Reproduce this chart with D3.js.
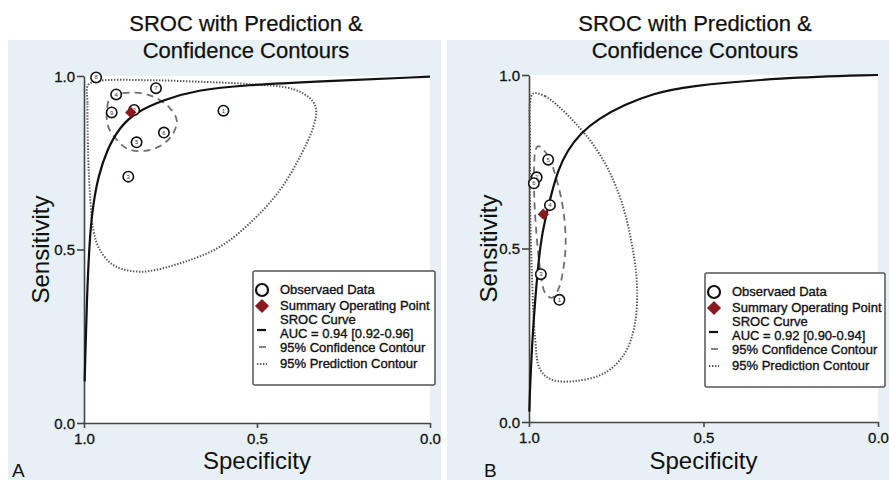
<!DOCTYPE html>
<html><head><meta charset="utf-8">
<script src="https://cdn.jsdelivr.net/npm/d3@7"></script>
<style>
html,body{margin:0;padding:0;background:#fff;}
svg{display:block;font-family:"Liberation Sans",Arial,sans-serif;}
</style></head>
<body><svg id="c" width="889" height="480"></svg>
<script>
// ---------- DATA ----------
const tickValues = [0, 0.5, 1.0];
const titleLines = ["SROC with Prediction &", "Confidence Contours"];
const legendLabels = ["Observaed Data", "Summary Operating Point", "SROC Curve", "95% Confidence Contour", "95% Prediction Contour"];
const aucA = "AUC = 0.94 [0.92-0.96]";
const aucB = "AUC = 0.92 [0.90-0.94]";

// Panel A studies: [specificity, sensitivity, label]
const studiesA = [
  [0.965, 0.996, "8"], [0.907, 0.947, "4"], [0.792, 0.965, "7"],
  [0.920, 0.895, "9"], [0.855, 0.902, "2"], [0.769, 0.837, "6"],
  [0.848, 0.809, "5"], [0.597, 0.900, "1"], [0.872, 0.710, "3"]
];
const summaryA = [0.865, 0.895];
const srocA = [
  [0.998, 0.12], [0.997, 0.162], [0.992, 0.354], [0.983, 0.547], [0.973, 0.633],
  [0.959, 0.710], [0.934, 0.787], [0.896, 0.854], [0.848, 0.897], [0.771, 0.931],
  [0.674, 0.960], [0.530, 0.974], [0.337, 0.984], [0.0, 0.998]
];
const confA = [
  [0.901, 0.948], [0.853, 0.952], [0.804, 0.942], [0.756, 0.912], [0.732, 0.873],
  [0.742, 0.835], [0.775, 0.801], [0.824, 0.784], [0.872, 0.789], [0.905, 0.816],
  [0.930, 0.854], [0.934, 0.902], [0.925, 0.936]
];
const predA = [
  [0.988, 0.974], [0.990, 0.921], [0.988, 0.777], [0.983, 0.662], [0.973, 0.556],
  [0.954, 0.499], [0.915, 0.455], [0.838, 0.436], [0.723, 0.460], [0.607, 0.508],
  [0.511, 0.585], [0.434, 0.671], [0.376, 0.767], [0.337, 0.854], [0.329, 0.902],
  [0.342, 0.931], [0.395, 0.962], [0.530, 0.977], [0.680, 0.984], [0.819, 0.988],
  [0.954, 0.986]
];

// Panel B
const studiesB = [
  [0.945, 0.756, "5"], [0.978, 0.705, "2"], [0.986, 0.688, "6"],
  [0.940, 0.625, "4"], [0.966, 0.426, "3"], [0.913, 0.352, "1"]
];
const summaryB = [0.959, 0.599];
const srocB = [
  [0.999, 0.03], [0.997, 0.103], [0.991, 0.228], [0.983, 0.344], [0.973, 0.459],
  [0.964, 0.535], [0.949, 0.603], [0.935, 0.661], [0.916, 0.728], [0.890, 0.782],
  [0.855, 0.830], [0.800, 0.875], [0.725, 0.915], [0.648, 0.945], [0.553, 0.968],
  [0.28, 0.992], [0.0, 1.0]
];
const confB = [
  [0.973, 0.795], [0.945, 0.766], [0.921, 0.699], [0.902, 0.612], [0.895, 0.516],
  [0.902, 0.439], [0.916, 0.382], [0.935, 0.358], [0.954, 0.372], [0.968, 0.439],
  [0.978, 0.535], [0.985, 0.651], [0.985, 0.747], [0.981, 0.785]
];
const predB = [
  [0.988, 0.947], [0.954, 0.939], [0.916, 0.910], [0.868, 0.862], [0.820, 0.805],
  [0.773, 0.728], [0.734, 0.632], [0.706, 0.516], [0.691, 0.401], [0.696, 0.286],
  [0.725, 0.199], [0.782, 0.142], [0.868, 0.118], [0.935, 0.122], [0.968, 0.151],
  [0.983, 0.247], [0.992, 0.439], [0.997, 0.632], [0.997, 0.824], [0.997, 0.920]
];

// ---------- DRAW ----------
const svg = d3.select("#c");
const BG = "#e7f0f4";

const panels = [
  {letter: "A", bg: [8, 441], x: [84, 430], y: [423, 76], titleX: 246, ylabX: 49, legend: [253, 271, 435, 385],
   studies: studiesA, summary: summaryA, sroc: srocA, conf: confA, pred: predA, auc: aucA, letterX: 12},
  {letter: "B", bg: [447, 889], x: [529, 878], y: [422, 75], titleX: 695, ylabX: 497, legend: [705, 273, 885, 387],
   studies: studiesB, summary: summaryB, sroc: srocB, conf: confB, pred: predB, auc: aucB, letterX: 484}
];

panels.forEach(p => {
  const g = svg.append("g");
  g.append("rect").attr("x", p.bg[0]).attr("y", 40).attr("width", p.bg[1] - p.bg[0]).attr("height", 440).attr("fill", BG);

  const x = d3.scaleLinear().domain([1, 0]).range(p.x);
  const y = d3.scaleLinear().domain([0, 1]).range(p.y);

  // plot area
  g.append("rect").attr("x", x(1)).attr("y", y(1)).attr("width", x(0) - x(1)).attr("height", y(0) - y(1)).attr("fill", "#fff");

  // title
  titleLines.forEach((t, i) => {
    g.append("text").attr("x", p.titleX).attr("y", 31 + i * 27).attr("text-anchor", "middle")
      .attr("font-size", 22).attr("fill", "#111").attr("stroke", "#111").attr("stroke-width", 0.25).text(t);
  });

  // axes
  const fmt = d3.format(".1f");
  const ax = g.append("g").attr("transform", `translate(0,${y(0)})`)
    .call(d3.axisBottom(x).tickValues(tickValues).tickFormat(fmt).tickSize(5).tickSizeOuter(0).tickPadding(5));
  const ay = g.append("g").attr("transform", `translate(${x(1)},0)`)
    .call(d3.axisLeft(y).tickValues(tickValues).tickFormat(fmt).tickSize(7).tickSizeOuter(0).tickPadding(2));
  [ax, ay].forEach(a => {
    a.selectAll("path,line").attr("stroke", "#444").attr("stroke-width", 1.6);
    a.selectAll("text").attr("font-size", 15).attr("fill", "#111").attr("stroke", "#111").attr("stroke-width", 0.3)
      .attr("font-family", "Liberation Sans, Arial, sans-serif");
  });
  ay.selectAll("text").attr("dy", "0.35em");

  // axis titles
  g.append("text").attr("x", (p.x[0] + p.x[1]) / 2).attr("y", 469).attr("text-anchor", "middle")
    .attr("font-size", 24).attr("fill", "#111").text("Specificity");
  g.append("text").attr("transform", `translate(${p.ylabX},${(p.y[0] + p.y[1]) / 2}) rotate(-90)`)
    .attr("text-anchor", "middle").attr("font-size", 24).attr("fill", "#111").text("Sensitivity");
  g.append("text").attr("x", p.letterX).attr("y", 477).attr("font-size", 19).attr("fill", "#111").text(p.letter);

  const line = d3.line().x(d => x(d[0])).y(d => y(d[1]));

  // prediction contour (dotted)
  g.append("path").attr("d", line.curve(d3.curveCatmullRomClosed.alpha(0.5))(p.pred))
    .attr("fill", "none").attr("stroke", "#555").attr("stroke-width", 2).attr("stroke-dasharray", "1.4,1.6");
  // confidence contour (dashed)
  g.append("path").attr("d", line.curve(d3.curveCatmullRomClosed.alpha(0.5))(p.conf))
    .attr("fill", "none").attr("stroke", "#707070").attr("stroke-width", 1.8).attr("stroke-dasharray", "7,5");
  // SROC curve
  g.append("path").attr("d", line.curve(d3.curveBasis)(p.sroc))
    .attr("fill", "none").attr("stroke", "#111").attr("stroke-width", 2.2);

  // studies
  const st = g.selectAll(".st").data(p.studies).join("g").attr("transform", d => `translate(${x(d[0])},${y(d[1])})`);
  st.append("circle").attr("r", 5.2).attr("fill", "#fff").attr("stroke", "#111").attr("stroke-width", 1.6);
  st.append("text").attr("text-anchor", "middle").attr("dy", "0.35em").attr("font-size", 6).attr("fill", "#333").text(d => d[2]);

  // summary point
  g.append("rect").attr("x", -4).attr("y", -4).attr("width", 8).attr("height", 8)
    .attr("transform", `translate(${x(p.summary[0])},${y(p.summary[1])}) rotate(45)`)
    .attr("fill", "#8b1a1f");

  // legend
  const [lx0, ly0, lx1, ly1] = p.legend;
  const lg = g.append("g");
  lg.append("rect").attr("x", lx0).attr("y", ly0).attr("width", lx1 - lx0).attr("height", ly1 - ly0)
    .attr("rx", 2).attr("fill", "#fff").attr("stroke", "#555").attr("stroke-width", 1.5);
  const sx = lx0 + 9, tx = lx0 + 27;
  const rows = [ly0 + 23, ly0 + 39, ly0 + 53, ly0 + 67, ly0 + 81, ly0 + 97];
  lg.append("circle").attr("cx", sx).attr("cy", rows[0] - 4).attr("r", 6).attr("fill", "#fff").attr("stroke", "#111").attr("stroke-width", 2.2);
  lg.append("text").attr("x", tx).attr("y", rows[0]).text(legendLabels[0]);
  lg.append("rect").attr("x", sx - 5).attr("y", rows[1] - 9).attr("width", 10).attr("height", 10)
    .attr("transform", `rotate(45,${sx},${rows[1] - 4})`).attr("fill", "#8b1a1f");
  lg.append("text").attr("x", tx).attr("y", rows[1]).text(legendLabels[1]);
  lg.append("text").attr("x", tx).attr("y", rows[2]).text(legendLabels[2]);
  lg.append("text").attr("x", tx).attr("y", rows[3]).text(p.auc);
  lg.append("line").attr("x1", sx - 5).attr("x2", sx + 4).attr("y1", rows[2] + 6).attr("y2", rows[2] + 6).attr("stroke", "#111").attr("stroke-width", 2.2);
  lg.append("line").attr("x1", sx - 3).attr("x2", sx + 4).attr("y1", rows[4] - 5).attr("y2", rows[4] - 5).attr("stroke", "#777").attr("stroke-width", 1.8);
  lg.append("text").attr("x", tx).attr("y", rows[4]).text(legendLabels[3]);
  lg.append("line").attr("x1", sx - 5).attr("x2", sx + 5).attr("y1", rows[5] - 4).attr("y2", rows[5] - 4).attr("stroke", "#555").attr("stroke-width", 2).attr("stroke-dasharray", "1.4,1.6");
  lg.append("text").attr("x", tx).attr("y", rows[5]).text(legendLabels[4]);
  lg.selectAll("text").attr("font-size", 13).attr("fill", "#111").attr("stroke", "#111").attr("stroke-width", 0.35);
});
</script></body></html>
